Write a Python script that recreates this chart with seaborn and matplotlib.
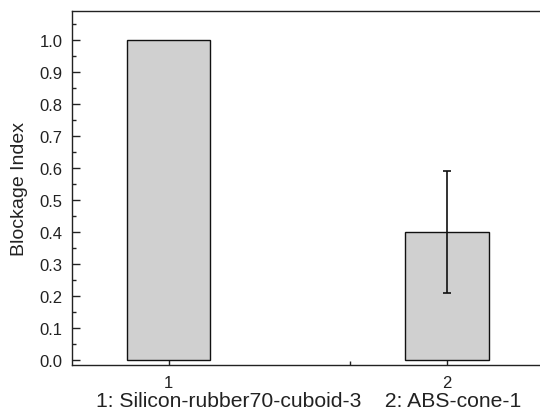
import matplotlib
matplotlib.use("Agg")
import matplotlib.pyplot as plt
import seaborn as sns
import numpy as np
from matplotlib.ticker import MultipleLocator, FixedLocator

categories = ["1", "2"]
blockage = [1.0, 0.40]
blockage_err = [0.0, 0.19]
y_ticks = [0.0, 0.1, 0.2, 0.3, 0.4, 0.5, 0.6, 0.7, 0.8, 0.9, 1.0]
x_title = "1: Silicon-rubber70-cuboid-3    2: ABS-cone-1"
y_title = "Blockage Index"

sns.set_theme(style="ticks")
plt.rcParams["font.family"] = ["Liberation Sans", "DejaVu Sans"]

fig = plt.figure(figsize=(5.4, 4.14), dpi=100)
ax = fig.add_axes([72 / 540, 1 - 366 / 414, 472.4 / 540, 354 / 414])

sns.barplot(x=categories, y=blockage, color="#d0d0d0", saturation=1,
            width=0.3, edgecolor="#111111", linewidth=1.0, ax=ax, zorder=2)
ax.errorbar(np.arange(len(categories))[1:], blockage[1:], yerr=blockage_err[1:],
            fmt="none", ecolor="#111111", elinewidth=1.2, capsize=3,
            capthick=1.2, zorder=3)

ax.set_xlim(-0.3475, 1.35)
ax.set_ylim(-0.0166, 1.09)
ax.set_yticks(y_ticks)
ax.set_yticklabels([f"{v:.1f}" for v in y_ticks])
ax.yaxis.set_minor_locator(MultipleLocator(0.05))
ax.xaxis.set_minor_locator(FixedLocator([0.65]))

ax.tick_params(axis="both", which="major", direction="in", length=6,
               width=1.0, color="#222222", labelsize=12, labelcolor="#222222")
ax.tick_params(axis="y", which="major", pad=7)
ax.tick_params(axis="x", which="major", pad=7)
ax.tick_params(axis="both", which="minor", direction="in", length=3,
               width=1.0, color="#222222")
ax.tick_params(top=False, right=False)

for side in ["left", "top", "bottom"]:
    ax.spines[side].set_visible(True)
    ax.spines[side].set_linewidth(1.0)
    ax.spines[side].set_color("#222222")
ax.spines["right"].set_visible(False)

ax.set_xlabel(x_title, fontsize=15.2, color="#222222", labelpad=1)
ax.set_ylabel(y_title, fontsize=14, color="#222222", labelpad=8)

fig.savefig("out.png", dpi=100)
